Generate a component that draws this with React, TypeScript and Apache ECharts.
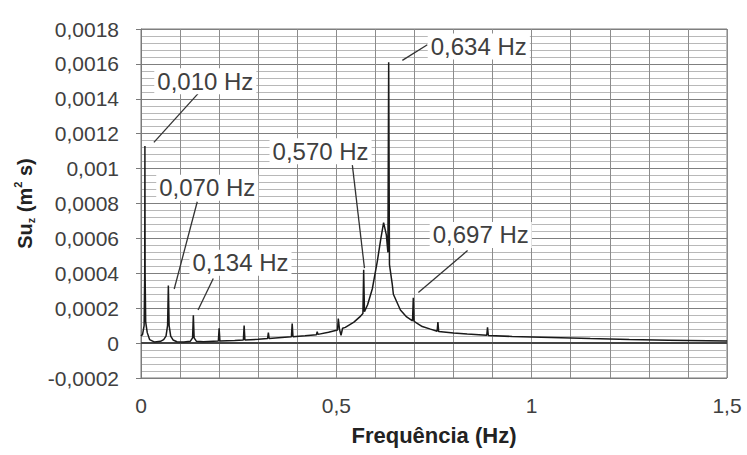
import React, { useEffect, useRef } from "react";
import * as echarts from "echarts";

const freq = [
  0, 0.004, 0.008, 0.0095, 0.01, 0.0105, 0.012, 0.016, 0.022, 0.035, 0.05, 0.058, 0.064, 0.068, 0.07, 0.072,
  0.076, 0.082, 0.092, 0.11, 0.126, 0.132, 0.134, 0.136, 0.142, 0.16, 0.198, 0.2, 0.202, 0.24, 0.262, 0.264,
  0.266, 0.3, 0.324, 0.326, 0.328, 0.36, 0.385, 0.387, 0.389, 0.42, 0.449, 0.451, 0.453, 0.48, 0.503, 0.505,
  0.508, 0.512, 0.516, 0.523, 0.545, 0.56, 0.568, 0.57, 0.572, 0.58, 0.592, 0.605, 0.614, 0.621, 0.628, 0.632,
  0.634, 0.636, 0.643, 0.646, 0.648, 0.664, 0.68, 0.695, 0.697, 0.699, 0.72, 0.741, 0.758, 0.76, 0.762, 0.8,
  0.835, 0.885, 0.887, 0.889, 0.95, 1.05, 1.15, 1.25, 1.35, 1.5,
];
const psd = [
  0.00004, 0.00005, 0.0001, 0.0004, 0.00113, 0.0004, 0.00012, 0.00006, 0.00002, 0.000006, 0.00001, 0.00002,
  0.00004, 0.0001, 0.00033, 0.0001, 0.00004, 0.000018, 0.000008, 0.000006, 0.00001, 0.00003, 0.00016, 0.00003,
  0.00001, 0.000008, 0.000012, 0.000085, 0.000012, 0.000015, 0.000018, 0.0001, 0.000018, 0.000022, 0.000026,
  0.00006, 0.000027, 0.000032, 0.000036, 0.000112, 0.000037, 0.000042, 0.000048, 0.000065, 0.00005, 0.000062,
  0.000075, 0.00014, 0.00008, 0.000045, 0.000085, 0.00009, 0.00012, 0.00015, 0.00017, 0.00042, 0.00018, 0.00022,
  0.00031, 0.00047, 0.0006, 0.00069, 0.00062, 0.00052, 0.00161, 0.00045, 0.00034, 0.00028, 0.00027, 0.00019,
  0.00015, 0.000128, 0.00026, 0.000125, 0.000095, 0.00008, 0.000068, 0.00012, 0.000066, 0.000058, 0.000052,
  0.000045, 0.00009, 0.000044, 0.000038, 0.000032, 0.000026, 0.000021, 0.000017, 0.000012,
];

const xLabels = [0, 0.5, 1, 1.5];

const annLabels = ["0,010 Hz", "0,070 Hz", "0,134 Hz", "0,570 Hz", "0,634 Hz", "0,697 Hz"];
// text anchor (left, middle) in data coordinates
const annTextX = [0.034, 0.039, 0.124, 0.329, 0.734, 0.739];
const annTextY = [0.0015, 0.00089, 0.00046, 0.0011, 0.0017, 0.00062];
// leader line endpoints in data coordinates
const annLineX1 = [0.146, 0.144, 0.185, 0.541, 0.733, 0.836];
const annLineY1 = [0.00143, 0.00081, 0.00037, 0.00102, 0.00171, 0.00053];
const annLineX2 = [0.033, 0.085, 0.146, 0.572, 0.669, 0.71];
const annLineY2 = [0.00115, 0.00031, 0.00019, 0.00043, 0.00162, 0.00029];

const FONT = "'Liberation Sans', Arial, Helvetica, sans-serif";

const fmt = (v: number) => parseFloat(v.toFixed(6)).toString().replace(".", ",");

export default function App() {
  const ref = useRef<HTMLDivElement>(null);
  useEffect(() => {
    const chart = echarts.init(ref.current!, null, { renderer: "svg" });
    const data = freq.map((f, i) => [f, psd[i]]);
    chart.setOption({
      animation: false,
      backgroundColor: "#ffffff",
      grid: { left: 141, right: 20, top: 29, bottom: 77, show: true, borderColor: "#7a7a7a", borderWidth: 1 },
      xAxis: {
        type: "value",
        min: 0,
        max: 1.5,
        interval: 0.1,
        name: "Frequência (Hz)",
        nameLocation: "middle",
        nameGap: 46,
        nameTextStyle: { fontFamily: FONT, fontSize: 22, fontWeight: "bold", color: "#222" },
        axisLine: { show: false, onZero: false },
        axisTick: { show: false },
        axisLabel: {
          margin: 17,
          fontFamily: FONT,
          fontSize: 21,
          color: "#404040",
          formatter: (v: number) => (xLabels.some((l) => Math.abs(l - v) < 1e-6) ? fmt(v) : ""),
        },
        splitLine: { show: true, lineStyle: { color: "#8c8c8c", width: 1 } },
      },
      yAxis: {
        type: "value",
        min: -0.0002,
        max: 0.0018,
        interval: 0.0002,
        name: "{b|Su}{sub|z}{b| (m}{sup|2}{b| s)}",
        nameLocation: "middle",
        nameGap: 104,
        nameTextStyle: {
          rich: {
            b: { fontFamily: FONT, fontSize: 20, fontWeight: "bold", color: "#222", lineHeight: 24 },
            sub: { fontFamily: FONT, fontSize: 11, fontWeight: "bold", color: "#222", verticalAlign: "bottom", lineHeight: 24, padding: [8, 0, 0, 0] },
            sup: { fontFamily: FONT, fontSize: 11, fontWeight: "bold", color: "#222", verticalAlign: "top", lineHeight: 24, padding: [0, 0, 8, 0] },
          },
        },
        axisLine: { show: true, lineStyle: { color: "#7a7a7a" } },
        axisTick: { show: true, length: 5, lineStyle: { color: "#7a7a7a" } },
        minorTick: { show: false, splitNumber: 5 },
        minorSplitLine: { show: true, lineStyle: { color: "#b8b8b8", width: 1 } },
        axisLabel: { margin: 22, fontFamily: FONT, fontSize: 21, color: "#404040", formatter: (v: number) => fmt(v) },
        splitLine: { show: true, lineStyle: { color: "#7f7f7f", width: 1 } },
      },
      series: [
        {
          type: "line",
          data,
          showSymbol: false,
          lineStyle: { color: "#1a1a1a", width: 1.5 },
          z: 5,
          markLine: {
            silent: true,
            symbol: "none",
            label: { show: false },
            lineStyle: { color: "#444", width: 1.8, type: "solid" },
            data: [{ yAxis: 0 }],
            z: 4,
          },
        },
      ],
    });

    const graphics: any[] = [];
    annLabels.forEach((label, i) => {
      const p1 = chart.convertToPixel({ gridIndex: 0 }, [annLineX1[i], annLineY1[i]]) as number[];
      const p2 = chart.convertToPixel({ gridIndex: 0 }, [annLineX2[i], annLineY2[i]]) as number[];
      const t = chart.convertToPixel({ gridIndex: 0 }, [annTextX[i], annTextY[i]]) as number[];
      graphics.push({
        type: "line",
        z: 100,
        shape: { x1: p1[0], y1: p1[1], x2: p2[0], y2: p2[1] },
        style: { stroke: "#333", lineWidth: 1.3 },
      });
      graphics.push({
        type: "text",
        z: 101,
        x: t[0],
        y: t[1],
        style: {
          text: label,
          fontFamily: FONT,
          fontSize: 24,
          fill: "#404040",
          align: "left",
          verticalAlign: "middle",
          backgroundColor: "#ffffff",
          padding: [1, 3, 1, 3],
        },
      });
    });
    chart.setOption({ graphic: graphics });

    return () => chart.dispose();
  }, []);
  return <div ref={ref} style={{ position: "fixed", left: 0, top: 0, width: 747, height: 455 }} />;
}
